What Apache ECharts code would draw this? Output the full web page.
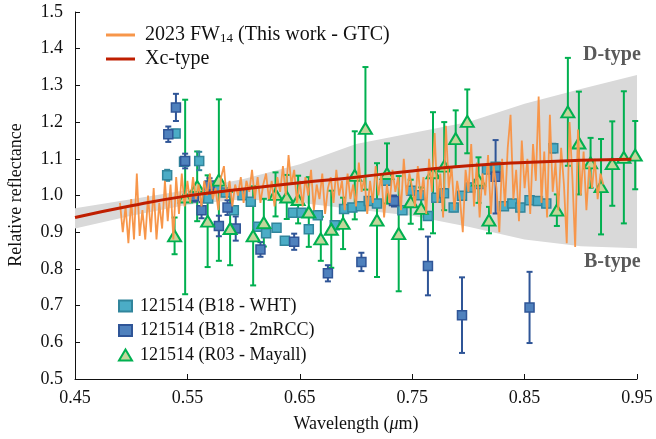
<!DOCTYPE html>
<html>
<head>
<meta charset="utf-8">
<script src="https://cdn.jsdelivr.net/npm/echarts@6/dist/echarts.min.js"></script>
<style>
  html, body { margin: 0; padding: 0; background: #fff; }
  #chart { width: 656px; height: 439px; }
</style>
</head>
<body>
<div id="chart"></div>
<script>
// GTC spectrum of 2023 FW14 [wavelength, reflectance]
const gtcSpectrum = [
  [0.4900, 0.98], [0.4925, 0.90], [0.4950, 0.97], [0.4975, 0.87], [0.5000, 0.99], [0.5025, 0.88],
  [0.5050, 1.06], [0.5075, 0.89], [0.5100, 0.96], [0.5125, 0.88], [0.5150, 1.00], [0.5175, 0.90],
  [0.5200, 1.02], [0.5225, 0.88], [0.5250, 0.98], [0.5275, 0.91], [0.5300, 1.04], [0.5325, 0.93],
  [0.5350, 1.03], [0.5375, 0.88], [0.5400, 1.05], [0.5425, 0.95], [0.5450, 1.06], [0.5475, 0.97],
  [0.5500, 1.04], [0.5525, 0.98], [0.5550, 1.05], [0.5575, 0.99], [0.5600, 1.03], [0.5625, 0.97],
  [0.5650, 1.04], [0.5675, 1.00], [0.5700, 1.06], [0.5725, 0.99], [0.5750, 1.02], [0.5775, 0.96],
  [0.5800, 1.05], [0.5825, 1.08], [0.5850, 0.99], [0.5875, 1.04], [0.5900, 0.97], [0.5925, 1.03],
  [0.5950, 1.00], [0.5975, 1.05], [0.6000, 0.98], [0.6025, 1.04], [0.6050, 1.01], [0.6075, 1.07],
  [0.6100, 0.99], [0.6125, 1.05], [0.6150, 0.98], [0.6175, 1.03], [0.6200, 1.06], [0.6225, 0.99],
  [0.6250, 1.04], [0.6275, 0.97], [0.6300, 1.05], [0.6325, 1.01], [0.6350, 1.08], [0.6375, 1.00],
  [0.6400, 1.11], [0.6425, 1.03], [0.6450, 1.07], [0.6475, 0.98], [0.6500, 1.04], [0.6525, 0.97],
  [0.6550, 1.05], [0.6575, 1.00], [0.6600, 1.07], [0.6625, 0.96], [0.6650, 1.03], [0.6675, 0.99],
  [0.6700, 1.06], [0.6725, 0.95], [0.6750, 1.02], [0.6775, 1.05], [0.6800, 0.98], [0.6825, 1.07],
  [0.6850, 1.00], [0.6875, 1.04], [0.6900, 0.96], [0.6925, 1.06], [0.6950, 0.99], [0.6975, 1.03],
  [0.7000, 0.97], [0.7025, 1.09], [0.7050, 1.01], [0.7075, 1.05], [0.7100, 0.95], [0.7125, 1.04],
  [0.7150, 0.98], [0.7175, 1.08], [0.7200, 1.00], [0.7225, 1.06], [0.7250, 0.94], [0.7275, 1.03],
  [0.7300, 0.98], [0.7325, 1.07], [0.7350, 1.01], [0.7375, 1.05], [0.7400, 0.96], [0.7425, 1.10],
  [0.7450, 1.00], [0.7475, 1.06], [0.7500, 1.02], [0.7525, 0.97], [0.7550, 1.08], [0.7575, 0.99],
  [0.7600, 1.05], [0.7625, 0.95], [0.7650, 1.10], [0.7675, 1.01], [0.7700, 1.17], [0.7725, 0.98],
  [0.7750, 1.06], [0.7775, 0.94], [0.7800, 1.19], [0.7825, 1.02], [0.7850, 1.08], [0.7875, 0.96],
  [0.7900, 1.04], [0.7925, 0.99], [0.7950, 0.90], [0.7975, 1.07], [0.8000, 1.01], [0.8025, 1.14],
  [0.8050, 0.97], [0.8075, 1.09], [0.8100, 0.94], [0.8125, 1.06], [0.8150, 1.00], [0.8175, 1.11],
  [0.8200, 0.95], [0.8225, 1.08], [0.8250, 1.02], [0.8275, 0.90], [0.8300, 1.10], [0.8325, 0.97],
  [0.8350, 1.13], [0.8375, 1.22], [0.8400, 0.99], [0.8425, 1.07], [0.8450, 0.93], [0.8475, 1.15],
  [0.8500, 1.02], [0.8525, 1.10], [0.8550, 0.95], [0.8575, 1.14], [0.8600, 1.04], [0.8625, 1.27],
  [0.8650, 0.98], [0.8675, 1.12], [0.8700, 0.94], [0.8725, 1.22], [0.8750, 1.01], [0.8775, 1.09],
  [0.8800, 0.96], [0.8825, 1.13], [0.8850, 1.03], [0.8875, 0.87], [0.8900, 1.20], [0.8925, 1.05],
  [0.8950, 0.86], [0.8975, 1.18], [0.9000, 1.00], [0.9025, 1.12], [0.9050, 0.96], [0.9075, 1.08],
  [0.9100, 1.02], [0.9125, 1.10], [0.9150, 0.99], [0.9175, 1.06], [0.9200, 1.03]
];

// Xc-type template
const xcWave = [0.45, 0.50, 0.55, 0.60, 0.65, 0.70, 0.75, 0.80, 0.85, 0.90, 0.945];
const xcRefl = [0.940, 0.972, 0.999, 1.018, 1.035, 1.050, 1.067, 1.081, 1.090, 1.096, 1.099];

// B-type .. D-type envelope
const bandWave  = [0.45, 0.50, 0.55, 0.60, 0.65, 0.70, 0.75, 0.80, 0.85, 0.90, 0.95];
const bandUpper = [0.965, 0.990, 1.015, 1.045, 1.085, 1.140, 1.170, 1.200, 1.250, 1.290, 1.328];
const bandLower = [0.910, 0.945, 0.975, 0.990, 0.980, 0.962, 0.945, 0.915, 0.880, 0.862, 0.856];

// 121514 points [wavelength, reflectance, error]
const whtPoints = [
  [0.532, 1.055, 0.015], [0.5395, 1.169, 0.010], [0.547, 1.092, 0.010], [0.5605, 1.094, 0.025],
  [0.5685, 0.992, 0.010], [0.5765, 1.022, 0.010], [0.584, 1.008, 0.010], [0.5913, 0.960, 0.010],
  [0.599, 1.001, 0.010], [0.6064, 0.983, 0.010], [0.613, 0.915, 0.010], [0.620, 0.897, 0.010],
  [0.6293, 0.912, 0.010], [0.6367, 0.877, 0.010], [0.644, 0.953, 0.010], [0.6515, 0.953, 0.010],
  [0.658, 0.908, 0.010], [0.666, 0.946, 0.010], [0.6811, 0.919, 0.010], [0.6894, 0.963, 0.010],
  [0.6968, 0.967, 0.010], [0.7042, 0.971, 0.010], [0.7113, 0.985, 0.010], [0.7187, 0.978, 0.010],
  [0.727, 1.040, 0.010], [0.7413, 0.960, 0.010], [0.7492, 1.013, 0.010], [0.7567, 1.001, 0.010],
  [0.764, 0.944, 0.010], [0.7715, 0.994, 0.010], [0.7783, 1.006, 0.010], [0.7869, 0.967, 0.010],
  [0.7943, 0.999, 0.010], [0.8017, 1.022, 0.010], [0.8091, 1.031, 0.010], [0.8165, 1.071, 0.010],
  [0.8242, 1.078, 0.010], [0.8316, 0.971, 0.010], [0.8391, 0.978, 0.010], [0.8462, 0.967, 0.010],
  [0.8544, 0.987, 0.010], [0.8618, 0.985, 0.010], [0.8693, 0.978, 0.010], [0.8755, 1.129, 0.012]
];
const rccPoints = [
  [0.533, 1.167, 0.021], [0.5398, 1.240, 0.037], [0.548, 1.094, 0.020], [0.5558, 0.998, 0.015],
  [0.5626, 0.960, 0.022], [0.5697, 1.027, 0.020], [0.578, 0.917, 0.028], [0.5857, 0.967, 0.020],
  [0.593, 0.910, 0.033], [0.615, 0.853, 0.020], [0.645, 0.874, 0.022], [0.675, 0.788, 0.022],
  [0.7048, 0.819, 0.025], [0.7338, 0.985, 0.015], [0.764, 0.808, 0.080], [0.7943, 0.674, 0.103],
  [0.8242, 1.051, 0.100], [0.8544, 0.695, 0.097]
];
const mayallPoints = [
  [0.5386, 0.890, 0.050], [0.548, 0.996, 0.265], [0.5587, 1.025, 0.095], [0.568, 0.930, 0.125],
  [0.578, 1.042, 0.220], [0.588, 0.910, 0.100], [0.6085, 0.890, 0.135], [0.618, 0.926, 0.065],
  [0.6284, 1.003, 0.060], [0.6384, 0.996, 0.060], [0.6485, 0.989, 0.065], [0.658, 0.955, 0.095],
  [0.6687, 0.882, 0.060], [0.678, 0.908, 0.105], [0.6885, 0.924, 0.070], [0.6989, 1.055, 0.120],
  [0.7084, 1.183, 0.167], [0.7187, 0.933, 0.155], [0.7276, 1.060, 0.082], [0.738, 0.896, 0.157],
  [0.7487, 0.983, 0.060], [0.758, 0.965, 0.057], [0.7685, 1.062, 0.165], [0.7785, 1.080, 0.120],
  [0.7887, 1.155, 0.077], [0.799, 1.202, 0.087], [0.809, 1.042, 0.062], [0.8183, 0.933, 0.036],
  [0.8787, 0.960, 0.043], [0.8885, 1.228, 0.147], [0.8983, 1.143, 0.140], [0.9087, 1.089, 0.068],
  [0.918, 1.024, 0.130], [0.928, 1.087, 0.115], [0.9383, 1.104, 0.180], [0.9484, 1.110, 0.093]
];

const FONT = '"Liberation Serif", "Times New Roman", serif';
const GTC_NAME = '2023 FW14 (This work - GTC)';

const chart = echarts.init(document.getElementById('chart'));

// vertical error bar with caps
const errorBar = (color) => (params, api) => {
  const x = api.value(0), y = api.value(1), e = api.value(2);
  const hi = api.coord([x, y + e]);
  const lo = api.coord([x, y - e]);
  const cap = 3;
  const style = { stroke: color, lineWidth: 2 };
  return {
    type: 'group',
    children: [
      { type: 'line', shape: { x1: hi[0], y1: hi[1], x2: lo[0], y2: lo[1] }, style },
      { type: 'line', shape: { x1: hi[0] - cap, y1: hi[1], x2: hi[0] + cap, y2: hi[1] }, style },
      { type: 'line', shape: { x1: lo[0] - cap, y1: lo[1], x2: lo[0] + cap, y2: lo[1] }, style }
    ]
  };
};

const option = {
  animation: false,
  grid: { left: 75, right: 19, top: 12, bottom: 60 },
  xAxis: {
    type: 'value', min: 0.45, max: 0.95, interval: 0.1,
    name: 'Wavelength ({i|μ}m)', nameLocation: 'middle', nameGap: 36,
    nameTextStyle: { fontFamily: FONT, fontSize: 18, color: '#111', rich: { i: { fontFamily: FONT, fontSize: 18, fontStyle: 'italic', color: '#111' } } },
    axisLine: { lineStyle: { color: '#111', width: 1 } },
    axisTick: { inside: true, length: 5, lineStyle: { color: '#111' } },
    axisLabel: { fontFamily: FONT, fontSize: 18, color: '#111', margin: 10, formatter: v => v.toFixed(2) },
    splitLine: { show: false }
  },
  yAxis: {
    type: 'value', min: 0.5, max: 1.5, interval: 0.1,
    axisLine: { show: true, lineStyle: { color: '#111', width: 1 } },
    axisTick: { show: true, inside: true, length: 5, lineStyle: { color: '#111' } },
    axisLabel: { fontFamily: FONT, fontSize: 18, color: '#111', margin: 12, formatter: v => v.toFixed(1) },
    splitLine: { show: false }
  },
  legend: [
    {
      data: [{ name: GTC_NAME, icon: 'rect' }, { name: 'Xc-type', icon: 'rect' }],
      orient: 'vertical', left: 101, top: 20, itemWidth: 29, itemHeight: 3, itemGap: 4,
      formatter: name => name === GTC_NAME ? '2023 FW{sub|14} (This work - GTC)' : name,
      textStyle: {
        fontFamily: FONT, fontSize: 20, color: '#111', lineHeight: 20, padding: [0, 0, 0, 5],
        rich: { sub: { fontFamily: FONT, fontSize: 13, color: '#111', verticalAlign: 'bottom', padding: [9, 0, 0, 0] } }
      }
    },
    {
      data: ['121514 (B18 - WHT)', '121514 (B18 - 2mRCC)', '121514 (R03 - Mayall)'],
      orient: 'vertical', left: 113, top: 291, itemWidth: 13, itemHeight: 11, itemGap: 4.5,
      textStyle: { fontFamily: FONT, fontSize: 18, color: '#111', lineHeight: 20, padding: [0, 0, 0, 3] }
    }
  ],
  graphic: [
    { type: 'text', x: 16, y: 195, rotation: Math.PI / 2,
      style: { text: 'Relative reflectance', font: '18px ' + FONT, fill: '#111', align: 'center', verticalAlign: 'middle' } },
    { type: 'text', x: 583, y: 55,
      style: { text: 'D-type', font: 'bold 20px ' + FONT, fill: '#595959', align: 'left', verticalAlign: 'middle' } },
    { type: 'text', x: 584, y: 262,
      style: { text: 'B-type', font: 'bold 20px ' + FONT, fill: '#595959', align: 'left', verticalAlign: 'middle' } }
  ],
  series: [
    {
      name: 'band', type: 'custom', silent: true,
      data: [[bandWave[0], bandLower[0]]],
      renderItem: (params, api) => {
        const pts = [];
        bandWave.forEach((w, i) => pts.push(api.coord([w, bandUpper[i]])));
        for (let i = bandWave.length - 1; i >= 0; i--) pts.push(api.coord([bandWave[i], bandLower[i]]));
        return { type: 'polygon', shape: { points: pts }, style: { fill: '#D9D9D9' } };
      }
    },
    {
      name: GTC_NAME, type: 'line', data: gtcSpectrum, symbol: 'none',
      lineStyle: { color: '#F7964A', width: 1.8 }, itemStyle: { color: '#F7964A' }
    },
    {
      name: 'Xc-type', type: 'line', data: xcWave.map((w, i) => [w, xcRefl[i]]), symbol: 'none', smooth: true,
      lineStyle: { color: '#BF1E00', width: 3 }, itemStyle: { color: '#BF1E00' }
    },
    { name: 'mayallErr', type: 'custom', data: mayallPoints, renderItem: errorBar('#00B050'), encode: { x: 0, y: 1 } },
    { name: 'whtErr', type: 'custom', data: whtPoints, renderItem: errorBar('#31859C'), encode: { x: 0, y: 1 } },
    { name: 'rccErr', type: 'custom', data: rccPoints, renderItem: errorBar('#2F5597'), encode: { x: 0, y: 1 } },
    {
      name: '121514 (B18 - WHT)', type: 'scatter', data: whtPoints, symbol: 'rect', symbolSize: 9,
      itemStyle: { color: '#4BACC6', borderColor: '#31859C', borderWidth: 1.5, opacity: 1 }
    },
    {
      name: '121514 (B18 - 2mRCC)', type: 'scatter', data: rccPoints, symbol: 'rect', symbolSize: 9,
      itemStyle: { color: '#4F81BD', borderColor: '#2F5597', borderWidth: 1.5, opacity: 1 }
    },
    {
      name: '121514 (R03 - Mayall)', type: 'scatter', data: mayallPoints, symbol: 'triangle', symbolSize: [13, 11],
      itemStyle: { color: '#C3D69B', borderColor: '#00B050', borderWidth: 2, opacity: 1 }
    }
  ]
};

chart.setOption(option);
</script>
</body>
</html>
